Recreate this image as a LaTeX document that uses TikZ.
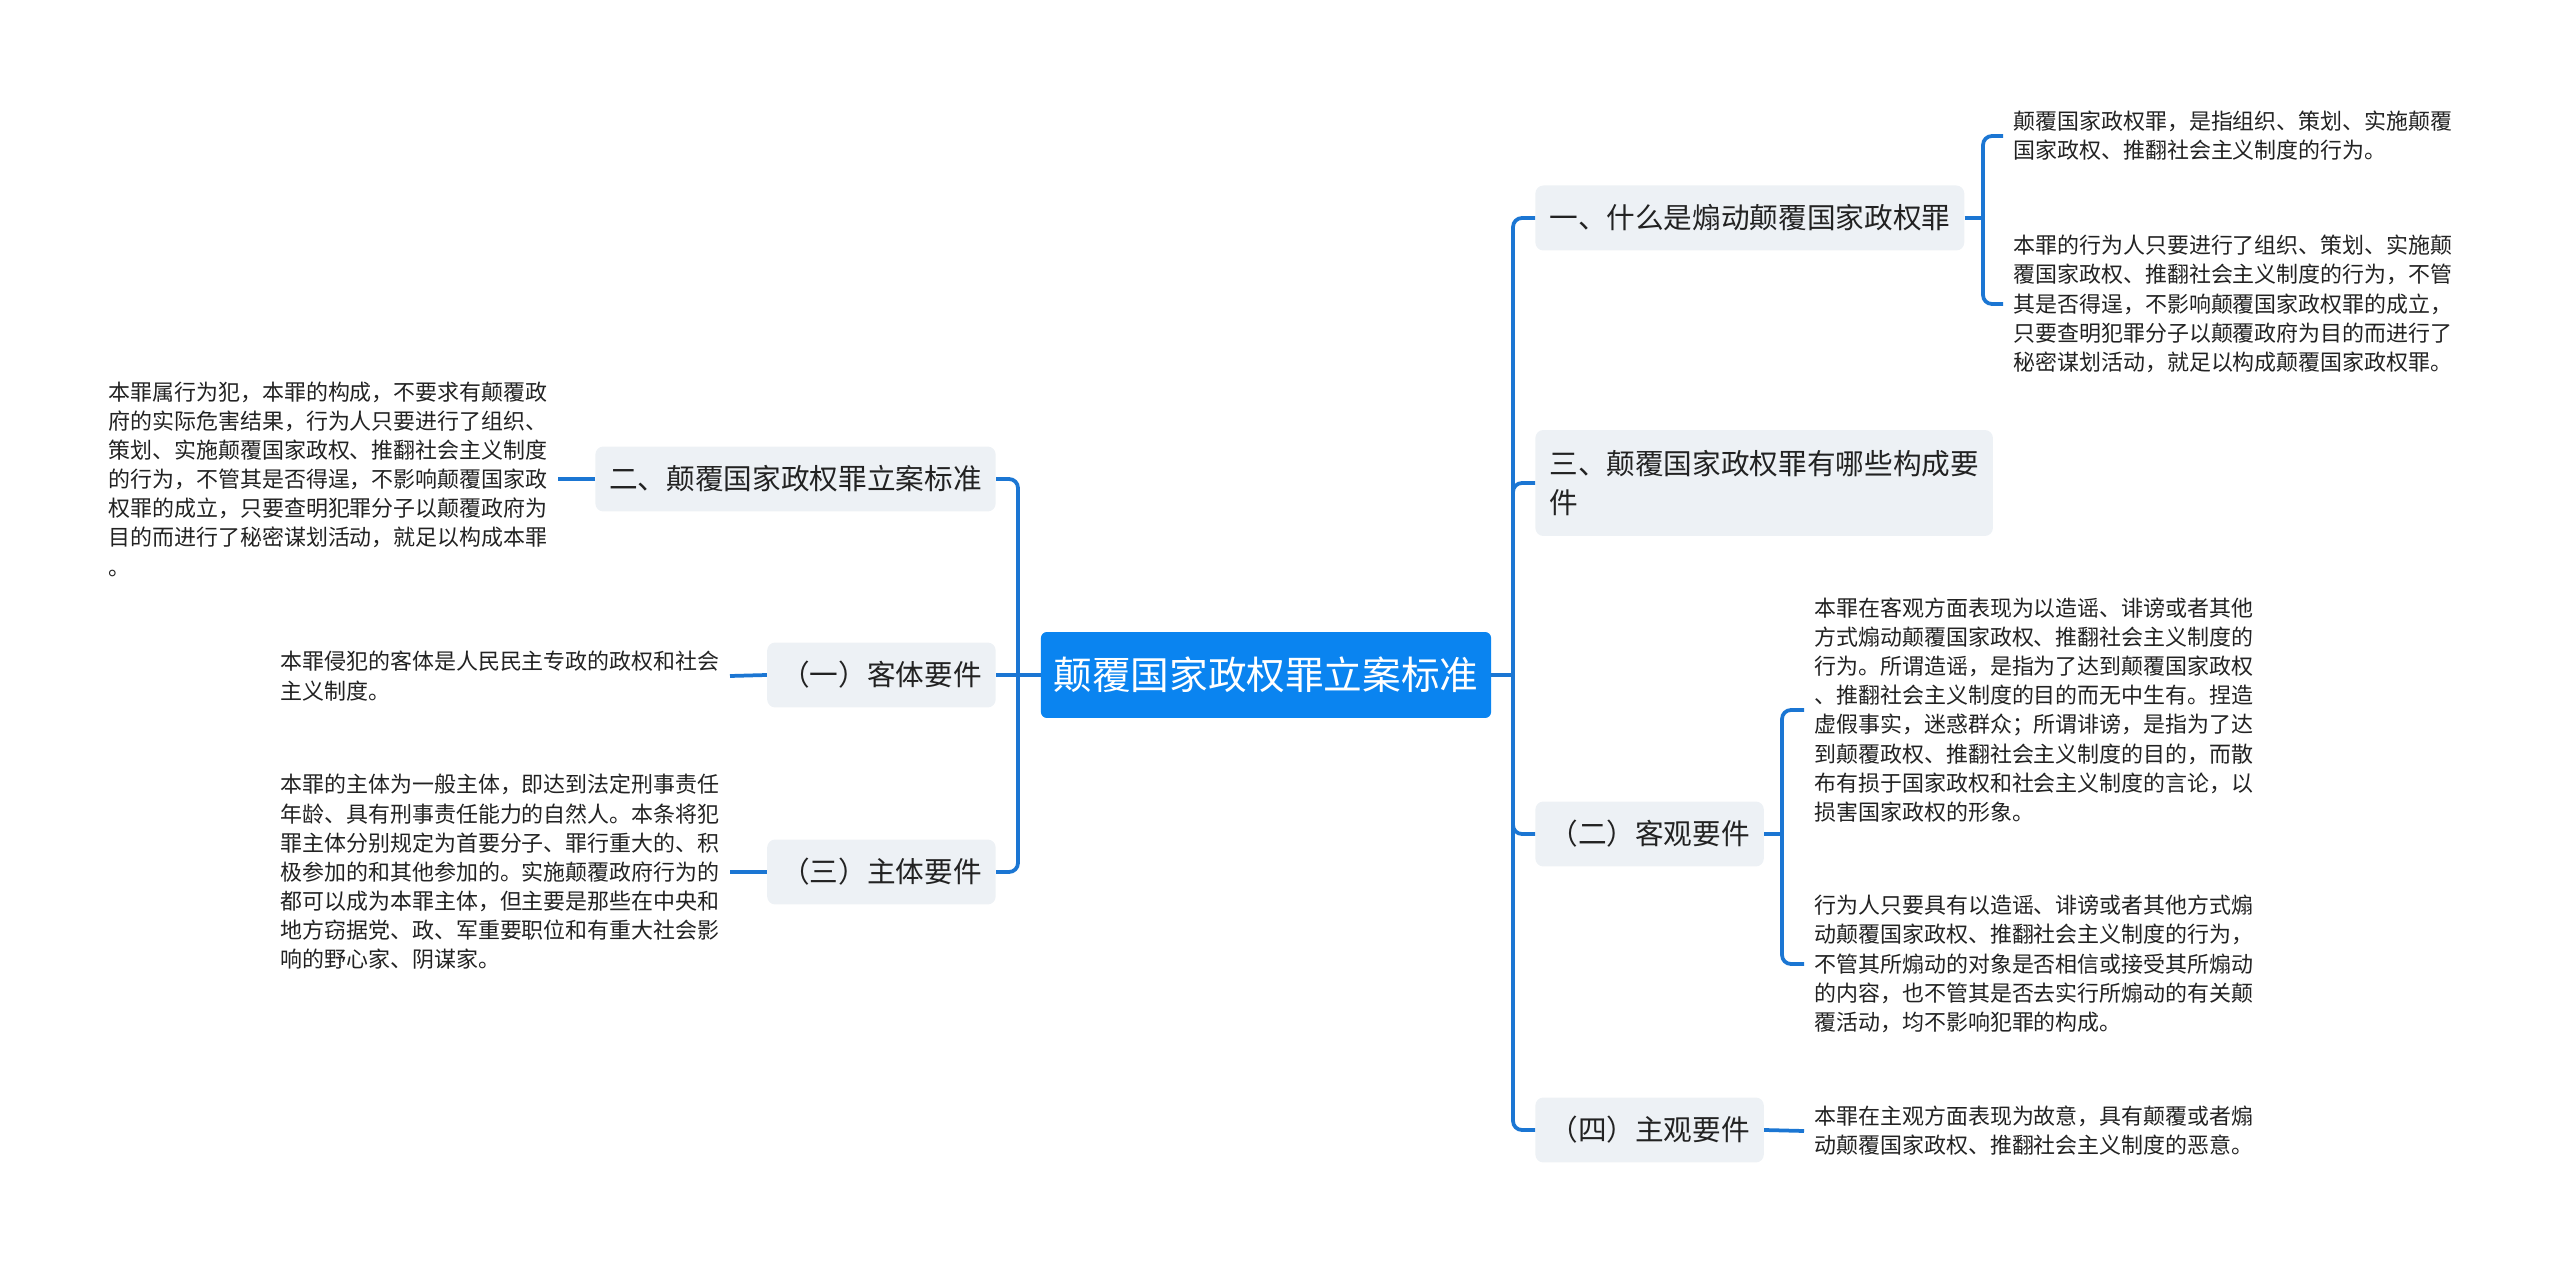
\documentclass[tikz,border=0pt]{standalone}
\usepackage{fontspec}
\usepackage{tikz}

\newfontfamily\cjk{Noto Sans CJK SC}
\definecolor{rootblue}{HTML}{0A84F0}
\definecolor{linkblue}{HTML}{1B76D3}
\definecolor{boxgray}{HTML}{EDF1F5}
\definecolor{txt}{HTML}{222222}

\begin{document}
\begin{tikzpicture}[x=0.02cm,y=-0.02cm,
  root/.style={fill=rootblue, text=white, rounded corners=0.12cm,
    font=\cjk\fontsize{22}{26}\selectfont, inner xsep=0.25cm, minimum height=1.72cm},
  branch/.style={fill=boxgray, text=txt, rounded corners=0.16cm, align=left,
    font=\cjk\fontsize{16.3}{22.7}\selectfont, inner xsep=0.28cm, minimum height=1.3cm},
  leaf/.style={text=txt, align=left, inner xsep=0.2cm, inner ysep=0pt,
    font=\cjk\fontsize{12.5}{16.6}\selectfont},
  link/.style={draw=linkblue, line width=0.075cm, rounded corners=0.18cm}]

\useasboundingbox (0,0) rectangle (2560,1266);

%% centre
\node[root] (root) at (1266,675) {颠覆国家政权罪立案标准};

%% right branches
\node[branch, anchor=west] (r1) at (1535,218) {一、什么是煽动颠覆国家政权罪};
\node[branch, anchor=west, minimum height=2.12cm] (r3) at (1535,483) {三、颠覆国家政权罪有哪些构成要\\件};
\node[branch, anchor=west] (r2) at (1535,834) {（二）客观要件};
\node[branch, anchor=west] (r4) at (1535,1130) {（四）主观要件};

%% left branches
\node[branch, anchor=east] (l2) at (996,479) {二、颠覆国家政权罪立案标准};
\node[branch, anchor=east] (l1) at (996,675) {（一）客体要件};
\node[branch, anchor=east] (l3) at (996,872) {（三）主体要件};

%% right leaves
\node[leaf, anchor=west] (a1) at (2003,136) {颠覆国家政权罪，是指组织、策划、实施颠覆\\国家政权、推翻社会主义制度的行为。};
\node[leaf, anchor=west] (a2) at (2003,304) {本罪的行为人只要进行了组织、策划、实施颠\\覆国家政权、推翻社会主义制度的行为，不管\\其是否得逞，不影响颠覆国家政权罪的成立，\\只要查明犯罪分子以颠覆政府为目的而进行了\\秘密谋划活动，就足以构成颠覆国家政权罪。};
\node[leaf, anchor=west] (b1) at (1804,710) {本罪在客观方面表现为以造谣、诽谤或者其他\\方式煽动颠覆国家政权、推翻社会主义制度的\\行为。所谓造谣，是指为了达到颠覆国家政权\\、推翻社会主义制度的目的而无中生有。捏造\\虚假事实，迷惑群众；所谓诽谤，是指为了达\\到颠覆政权、推翻社会主义制度的目的，而散\\布有损于国家政权和社会主义制度的言论，以\\损害国家政权的形象。};
\node[leaf, anchor=west] (b2) at (1804,964) {行为人只要具有以造谣、诽谤或者其他方式煽\\动颠覆国家政权、推翻社会主义制度的行为，\\不管其所煽动的对象是否相信或接受其所煽动\\的内容，也不管其是否去实行所煽动的有关颠\\覆活动，均不影响犯罪的构成。};
\node[leaf, anchor=west] (c1) at (1804,1131) {本罪在主观方面表现为故意，具有颠覆或者煽\\动颠覆国家政权、推翻社会主义制度的恶意。};

%% left leaves
\node[leaf, anchor=east] (d2) at (558,479) {本罪属行为犯，本罪的构成，不要求有颠覆政\\府的实际危害结果，行为人只要进行了组织、\\策划、实施颠覆国家政权、推翻社会主义制度\\的行为，不管其是否得逞，不影响颠覆国家政\\权罪的成立，只要查明犯罪分子以颠覆政府为\\目的而进行了秘密谋划活动，就足以构成本罪\\。};
\node[leaf, anchor=east] (d1) at (730,676) {本罪侵犯的客体是人民民主专政的政权和社会\\主义制度。};
\node[leaf, anchor=east] (d3) at (730,872) {本罪的主体为一般主体，即达到法定刑事责任\\年龄、具有刑事责任能力的自然人。本条将犯\\罪主体分别规定为首要分子、罪行重大的、积\\极参加的和其他参加的。实施颠覆政府行为的\\都可以成为本罪主体，但主要是那些在中央和\\地方窃据党、政、军重要职位和有重大社会影\\响的野心家、阴谋家。};

%%% edges
\coordinate (rj) at (1513,675);
\coordinate (lj) at (1018,675);
\coordinate (r1j) at (1983,218);
\coordinate (r2j) at (1782,834);

\draw[link] (root.east) -- (rj);
\draw[link] (rj) |- (r1.west);
\draw[link] (rj) |- (r3.west);
\draw[link] (rj) |- (r2.west);
\draw[link] (rj) |- (r4.west);

\draw[link] (root.west) -- (lj);
\draw[link] (lj) |- (l2.east);
\draw[link] (lj) -- (l1.east);
\draw[link] (lj) |- (l3.east);

\draw[link] (r1.east) -- (r1j);
\draw[link] (r1j) |- (a1.west);
\draw[link] (r1j) |- (a2.west);
\draw[link] (r2.east) -- (r2j);
\draw[link] (r2j) |- (b1.west);
\draw[link] (r2j) |- (b2.west);
\draw[link] (r4.east) -- (c1.west);

\draw[link] (l2.west) -- (d2.east);
\draw[link] (l1.west) -- (d1.east);
\draw[link] (l3.west) -- (d3.east);

\end{tikzpicture}
\end{document}
